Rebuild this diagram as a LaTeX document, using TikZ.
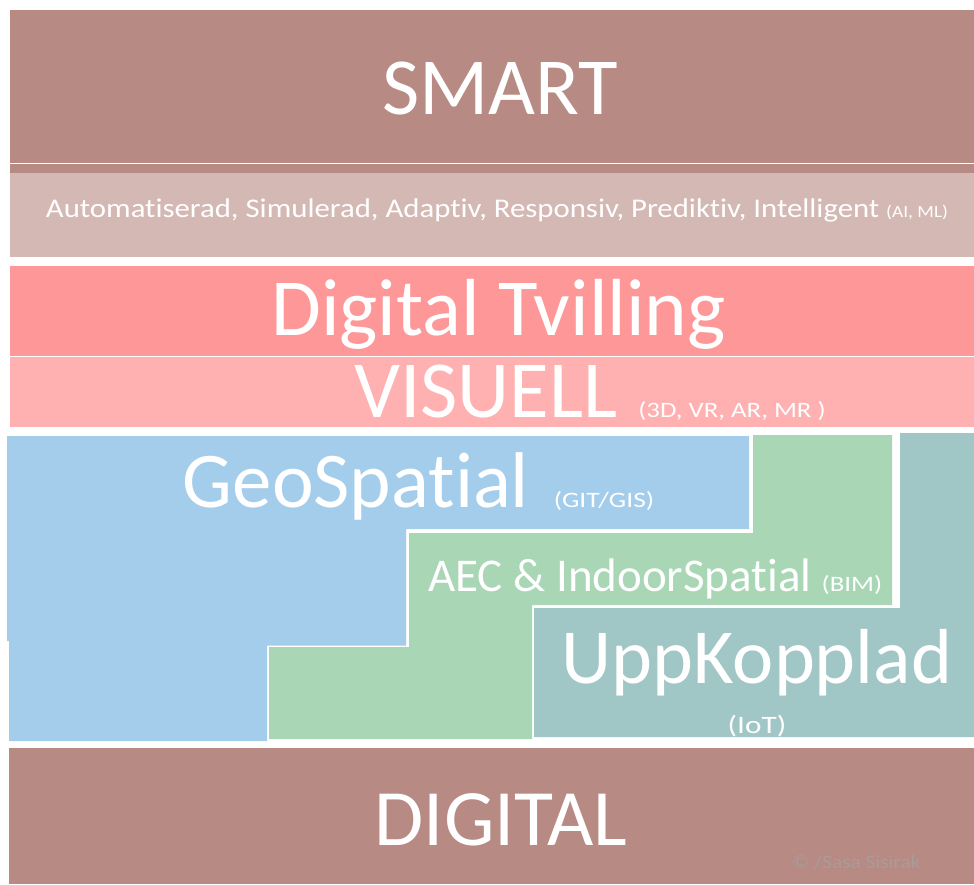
\documentclass[tikz,border=0pt]{standalone}
\usepackage{fontspec}
\setmainfont{Carlito}[Ligatures={NoCommon,NoRare,NoContextual}]
\definecolor{smartc}{HTML}{B78A83}
\definecolor{lightc}{HTML}{D4B8B4}
\definecolor{redc}{HTML}{FE9898}
\definecolor{visc}{HTML}{FFB0B0}
\definecolor{bluec}{HTML}{A4CDEC}
\definecolor{greenc}{HTML}{A9D6B4}
\definecolor{tealc}{HTML}{A1C6C6}
\definecolor{copyc}{HTML}{A99C9A}
\newcommand{\fsz}[1]{\fontsize{#1}{#1}\selectfont}
\newcommand{\wide}[2]{\scalebox{#1}[1]{#2}}
\tikzset{
  lbl/.style={text=white, inner sep=0pt, outer sep=0pt, anchor=base},
}
\begin{document}
\begin{tikzpicture}[x=1pt,y=-1pt]
\useasboundingbox[fill=white] (0,0) rectangle (974,884);
% top bands
\fill[smartc] (9.5,10) rectangle (974,162.5);
\fill[smartc] (9.5,164) rectangle (974,173);
\fill[lightc] (9.5,173) rectangle (974,257);
\fill[redc] (9.5,266) rectangle (974,355.5);
\fill[visc] (9.5,357) rectangle (974,427);
% stepped blocks
\fill[bluec] (7,436) -- (749,436) -- (749,529) -- (406,529) -- (406,645.5) -- (267,645.5) -- (267,741) -- (9,741) -- (9,641) -- (7,641) -- cycle;
\fill[greenc] (753,435) -- (892,435) -- (892,605) -- (532,605) -- (532,739) -- (269,739) -- (269,647) -- (409,647) -- (409,533) -- (753,533) -- cycle;
\fill[tealc] (900,433) -- (974,433) -- (974,737) -- (534,737) -- (534,608) -- (900,608) -- cycle;
% bottom band
\fill[smartc] (9,748) rectangle (974,884);
% texts
\node[lbl, font=\fsz{81}] (smart) at (500,114) {SMART};
\node[lbl, font=\fsz{27}] (attr) at (497,217) {\wide{1.14}{Automatiserad, Simulerad, Adaptiv, Responsiv, Prediktiv, Intelligent {\fsz{17}(AI, ML)}}};
\node[lbl, font=\fsz{81}] (twin) at (498.5,335) {Digital Tvilling};
\node[lbl, font=\fsz{81}] (vis) at (486,417) {VISUELL};
\node[lbl, font=\fsz{22}] (visl) at (732,417) {\wide{1.22}{(3D, VR, AR, MR )}};
\node[lbl, font=\fsz{79}] (geo) at (356,507) {GeoSpatial};
\node[lbl, font=\fsz{22}] (geol) at (604,507) {\wide{1.25}{(GIT/GIS)}};
\node[lbl, font=\fsz{47}] (aec) at (620,591) {AEC \& IndoorSpatial};
\node[lbl, font=\fsz{22}] (aecl) at (852,591) {\wide{1.22}{(BIM)}};
\node[lbl, font=\fsz{78}] (upp) at (757,683) {UppKopplad};
\node[lbl, font=\fsz{25}] (iot) at (757,733) {\wide{1.25}{(IoT)}};
\node[lbl, font=\fsz{80}] (dig) at (501,845) {DIGITAL};
\node[lbl, text=copyc, font=\fsz{19}] (copy) at (856,868) {\wide{1.12}{© /Sasa Sisirak}};
\end{tikzpicture}
\end{document}
